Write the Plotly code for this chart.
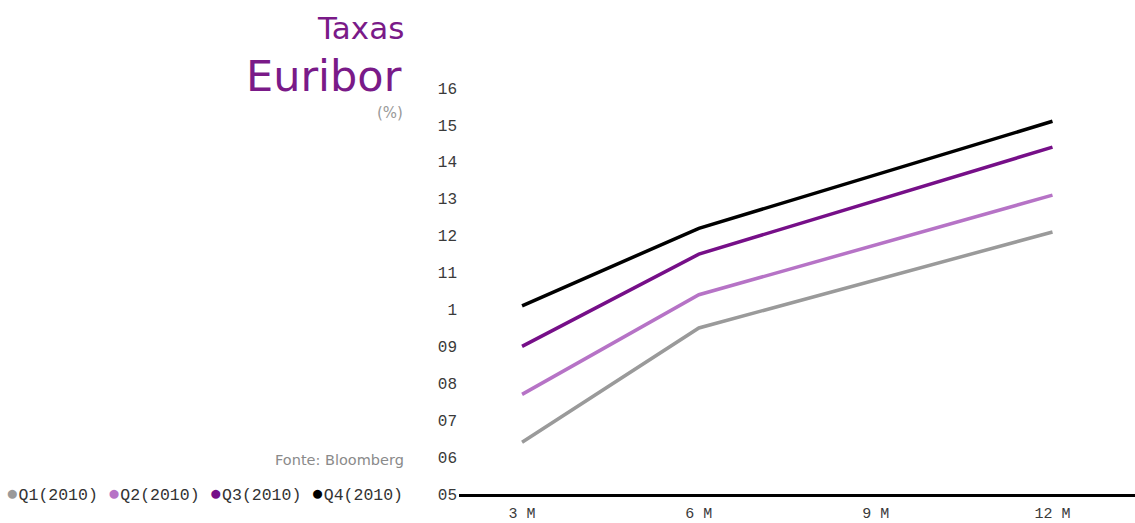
import plotly.graph_objects as go

# Euribor term structure at the end of each quarter of 2010 (%)
maturities = [3, 6, 12]                      # months
maturity_ticks = [3, 6, 9, 12]
maturity_labels = ["3 M", "6 M", "9 M", "12 M"]

series_names = ["Q1(2010)", "Q2(2010)", "Q3(2010)", "Q4(2010)"]
q1_rates = [0.64, 0.95, 1.21]
q2_rates = [0.77, 1.04, 1.31]
q3_rates = [0.90, 1.15, 1.44]
q4_rates = [1.01, 1.22, 1.51]
series_values = [q1_rates, q2_rates, q3_rates, q4_rates]
series_colors = ["#9a9a9a", "#b673c6", "#760f88", "#000000"]

y_ticks = [0.5, 0.6, 0.7, 0.8, 0.9, 1.0, 1.1, 1.2, 1.3, 1.4, 1.5, 1.6]
y_tick_labels = ["05", "06", "07", "08", "09", "1", "11", "12", "13", "14", "15", "16"]

W, H = 1135, 523
L, R, T, B = 459, 0, 70, 29

fig = go.Figure()
for name, vals, col in zip(series_names, series_values, series_colors):
    fig.add_trace(go.Scatter(
        x=maturities, y=vals, name=name, mode="lines",
        line=dict(color=col, width=3.5), showlegend=False,
    ))


def px_x(px):
    return (px - L) / (W - L - R)


def px_y(py):
    return 1 - (py - T) / (H - T - B)


tick_font = dict(family="Liberation Mono", size=16, color="#3a3a3a")
purple = "#7a1a88"

annotations = [
    dict(text="Taxas", x=px_x(406), y=px_y(28), xanchor="right", yanchor="middle",
         font=dict(family="DejaVu Sans", size=31, color=purple)),
    dict(text="Euribor", x=px_x(404), y=px_y(76), xanchor="right", yanchor="middle",
         font=dict(family="DejaVu Sans", size=43, color=purple)),
    dict(text="(%)", x=px_x(405), y=px_y(113), xanchor="right", yanchor="middle",
         font=dict(family="DejaVu Sans", size=15, color="#999999")),
    dict(text="Fonte: Bloomberg", x=px_x(406), y=px_y(460), xanchor="right", yanchor="middle",
         font=dict(family="DejaVu Sans", size=14.5, color="#8a8a8a")),
]

legend_parts = []
for name, col in zip(series_names, series_colors):
    legend_parts.append(f"<span style='color:{col};font-size:21px'>●</span>{name}")
annotations.append(dict(
    text=" ".join(legend_parts), x=px_x(4), y=px_y(495),
    xanchor="left", yanchor="middle",
    font=dict(family="Liberation Mono", size=16.5, color="#333333"),
))

for a in annotations:
    a.update(xref="paper", yref="paper", showarrow=False)

fig.update_layout(
    width=W, height=H,
    margin=dict(l=L, r=R, t=T, b=B),
    paper_bgcolor="white", plot_bgcolor="white",
    annotations=annotations,
    xaxis=dict(
        range=[1.93, 13.4], tickvals=maturity_ticks, ticktext=maturity_labels,
        showgrid=False, zeroline=False, showline=True, linecolor="black", linewidth=3,
        ticks="", ticklabelstandoff=3, tickfont=dict(tick_font, size=15), fixedrange=True,
        automargin=False,
    ),
    yaxis=dict(
        range=[0.5, 1.649], tickvals=y_ticks, ticktext=y_tick_labels,
        showgrid=False, zeroline=False, showline=False,
        ticks="", ticklabelstandoff=1, tickfont=tick_font, fixedrange=True,
        automargin=False,
    ),
)

fig.write_html("out.html")
